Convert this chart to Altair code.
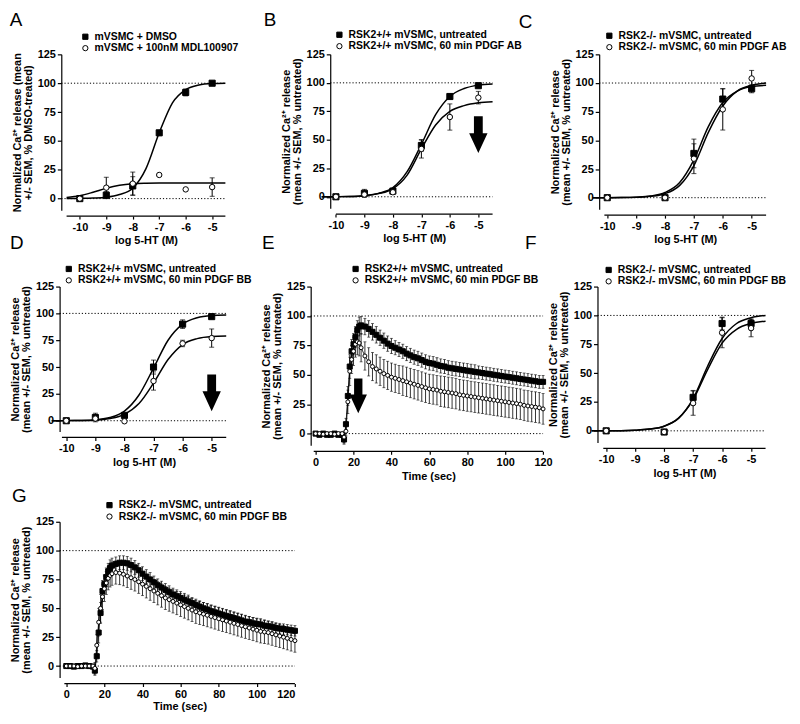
import altair as alt
import pandas as pd

FONT = "Liberation Sans"

# ---------------- shared axis values ----------------
DOSE_TICKS = [-10, -9, -8, -7, -6, -5]
Y_TICKS = [0, 25, 50, 75, 100, 125]
REF_LINES = [0, 100]
TIME_TICKS = [0, 20, 40, 60, 80, 100, 120]
CURVE_X = [-10.5, -10, -9.5, -9, -8.5, -8, -7.5, -7, -6.5, -6, -5.5, -5, -4.5]
DOSE_X6 = [-10, -9, -8, -7, -6, -5]
DOSE_X5 = [-10, -8, -7, -6, -5]

YT_A = ["Normalized Ca²⁺ release (mean", "+/- SEM, % DMSO-treated)"]
YT = ["Normalized Ca²⁺ release", "(mean +/- SEM, % untreated)"]
XT_DOSE = "log 5-HT (M)"
XT_TIME = "Time (sec)"

# ---------------- panel A ----------------
A_labels = ["mVSMC + DMSO", "mVSMC + 100nM MDL100907"]
A_fill_y = [0, 3, 11, 57, 92, 100]
A_fill_e = [1, 3, 8, 2, 3, 1]
A_open_y = [0, 9.5, 13, 20.5, 8, 10]
A_open_e = [0.5, 9, 10, 0, 0, 8]
A_fill_curve = [0, 0.2, 0.5, 1.2, 3.5, 9, 26, 57, 83, 94.5, 98.5, 99.7, 100]
A_open_curve = [1, 2.5, 5.5, 9, 11.5, 12.8, 13.3, 13.5, 13.5, 13.5, 13.5, 13.5, 13.5]

# ---------------- panel B ----------------
B_labels = ["RSK2+/+ mVSMC, untreated", "RSK2+/+ mVSMC, 60 min PDGF AB"]
B_fill_y = [0, 3, 5, 45, 88, 97.5]
B_fill_e = [0.5, 3.5, 1.5, 5, 2, 1]
B_open_y = [0, 2, 4, 42, 70, 87]
B_open_e = [0.5, 1, 1, 8, 11.5, 5.5]
B_fill_curve = [0, 0.1, 0.3, 1, 3, 8, 22, 46, 72, 88, 95, 98, 99]
B_open_curve = [0, 0.1, 0.3, 1, 2.8, 7, 19, 42, 63, 75, 80, 82.5, 83.5]
B_arrow = (-5, 54.5)

# ---------------- panel C ----------------
C_labels = ["RSK2-/- mVSMC, untreated", "RSK2-/- mVSMC, 60 min PDGF AB"]
C_fill_y = [0, 0, 38.6, 86, 95]
C_fill_e = [0.5, 1, 12.5, 9, 3.5]
C_open_y = [0, 0, 34, 77, 104]
C_open_e = [0.5, 1, 13, 18, 7]
C_fill_curve = [0, 0, 0.1, 0.5, 1.5, 4.5, 13, 33, 62, 83, 93, 97, 98]
C_open_curve = [0, 0, 0.1, 0.4, 1.2, 3.5, 10.5, 28, 57, 80, 93, 98, 100]

# ---------------- panel D ----------------
D_labels = ["RSK2+/+ mVSMC, untreated", "RSK2+/+ mVSMC, 60 min PDGF BB"]
D_fill_y = [0, 3, 5, 50, 90, 97]
D_fill_e = [0.5, 4, 1, 6.5, 4, 2]
D_open_y = [0, 2, -0.5, 37, 72, 77]
D_open_e = [0.5, 1, 0.5, 8.5, 3, 8.5]
D_fill_curve = [0, 0.1, 0.3, 1, 3, 9, 24, 49, 75, 90, 96, 98, 98.5]
D_open_curve = [0, 0.1, 0.2, 0.5, 2, 6, 16, 35, 57, 71, 76.5, 78.5, 79]
D_arrow = (-5, 26)

# ---------------- panel F ----------------
F_labels = ["RSK2-/- mVSMC, untreated", "RSK2-/- mVSMC, 60 min PDGF BB"]
F_fill_y = [0, -1, 29, 93, 93]
F_fill_e = [0.5, 1, 6, 5.5, 4]
F_open_y = [0, -1, 24, 85, 89]
F_open_e = [0.5, 1, 10.5, 13, 7.5]
F_fill_curve = [0, 0, 0.1, 0.5, 1.5, 4, 11, 28, 56, 80, 93, 98, 100]
F_open_curve = [0, 0, 0.1, 0.5, 1.5, 4, 11, 27, 53, 76, 88, 93, 95]

# ---------------- time courses (E, G) ----------------
TIME = [0, 2, 4, 6, 8, 10, 12, 14,
        15, 16, 17, 18, 19, 20, 21, 22, 23, 24,
        26, 28, 30, 32, 34, 36, 38, 40, 42, 44, 46, 48, 50, 52, 54, 56, 58, 60,
        62, 64, 66, 68, 70, 72, 74, 76, 78, 80, 82, 84, 86, 88, 90, 92, 94, 96,
        98, 100, 102, 104, 106, 108, 110, 112, 114, 116, 118, 120]

E_labels = ["RSK2+/+ mVSMC, untreated", "RSK2+/+ mVSMC, 60 min PDGF BB"]
E_fill_y = [0, -1, 0, -1, -1, 0, -1, -1,
            -5, 8, 32, 57, 70, 76, 82, 88, 91, 92,
            91, 89, 86.5, 84, 81.5, 79, 76.5, 74.5, 73, 71.5,
            70, 68, 66.5, 65, 64, 62.5, 61, 60, 59.5, 58.5,
            57.5, 57, 56, 55.5, 55, 54.5, 54, 53.5, 53, 52.5,
            52, 51.5, 51, 50.5, 50, 49.5, 49, 48.5, 48, 47.5,
            47, 46.5, 46, 45.5, 45, 44.5, 44, 44]
E_fill_e = [1, 1, 1, 1, 1, 1, 1, 1,
            4, 5, 8, 10, 10, 9, 9, 8, 8, 7.5,
            7, 7, 7, 7, 6.5, 6.5, 6.5, 6.5, 6, 6,
            6, 6, 6, 6, 6, 6, 6, 6, 6, 6,
            6, 6, 6, 6, 6, 6, 6, 6, 6, 6,
            5.5, 5.5, 5.5, 5.5, 5.5, 5.5, 5.5, 5.5, 5.5, 5.5,
            5.5, 5.5, 5.5, 5.5, 5.5, 5.5, 5.5, 5.5]
E_open_y = [0, 0, -0.5, 0, 0, -0.5, 0, 0,
            -3, 2, 27, 53, 63, 70, 76, 78, 77, 73,
            66, 61, 57, 55, 53, 51, 49.5, 48, 47, 46,
            45, 44, 43, 42, 41, 40, 39, 38, 37.5, 37,
            36, 35.5, 35, 34.5, 34, 33, 32.5, 32, 31.5, 31,
            30.5, 30, 29.5, 29, 28.5, 28, 27.5, 27, 26.5, 26,
            25.5, 25, 24, 23.5, 23, 22.5, 22, 21]
E_open_e = [1, 1, 1, 1, 1, 1, 1, 1,
            5, 4, 10, 12, 12, 12, 11, 11, 11, 12,
            12, 12, 12, 12, 12, 12, 12, 12, 12, 12,
            12.5, 12.5, 12.5, 12.5, 12.5, 12.5, 12.5, 12.5, 12.5, 12.5,
            13, 13, 13, 13, 13, 13, 13, 13, 13, 13,
            13, 13, 13, 13, 13, 13, 13, 13, 13, 13,
            13, 13, 13, 13, 13, 13, 13, 13]
E_arrow = (22.5, 32)

G_labels = ["RSK2-/- mVSMC, untreated", "RSK2-/- mVSMC, 60 min PDGF BB"]
G_fill_y = [0, 0, -0.5, 0, 0, 0.5, 0, -0.5,
            -4, 8.5, 29, 46, 65, 71, 77, 82, 85, 87,
            88.5, 89.5, 89.5, 89, 87.5, 85.5, 83, 80, 77.5, 75,
            72.5, 70, 68, 66, 64, 62, 60.5, 59, 57.5, 56,
            54.5, 53, 51.5, 50, 49, 47.5, 46.5, 45.5, 44.5, 43.5,
            42.5, 41.5, 40.5, 39.5, 38.5, 38, 37, 36.5, 36, 35,
            34.5, 34, 33, 32.5, 32, 31.5, 31, 30.5]
G_fill_e = [1, 1, 1, 1, 1, 1, 1, 1,
            4, 5, 9, 9, 9, 8, 8, 7, 7, 6.5,
            6, 6, 6, 6, 6, 6, 6, 6, 6, 6,
            5.5, 5.5, 5.5, 5.5, 5.5, 5.5, 5.5, 5.5, 5.5, 5.5,
            5, 5, 5, 5, 5, 5, 5, 5, 5, 5,
            5, 5, 5, 5, 5, 5, 5, 5, 5, 5,
            4.5, 4.5, 4.5, 4.5, 4.5, 4.5, 4.5, 4.5]
G_open_y = [0, 0, 0, -0.5, 0, 0, 0, 0,
            -2, 18, 38, 50, 60, 67, 72, 76, 78.5, 80,
            81, 80.5, 79.5, 78, 76.5, 75, 73, 71, 69, 67,
            65, 63, 61, 59, 57.5, 56, 54.5, 53, 51.5, 50,
            48.5, 47, 46, 45, 44, 43, 42, 41, 40, 39,
            38, 37, 36, 35, 34, 33, 32, 31, 30, 29.5,
            29, 28, 27, 26, 25, 24, 23, 22]
G_open_e = [1, 1, 1, 1, 1, 1, 1, 1,
            5, 9, 12, 12, 11, 11, 10, 10, 10, 10,
            10, 10, 10, 10, 10, 10, 10, 10, 10, 10,
            10, 10, 10, 10, 10, 10, 10, 10, 10, 10,
            10, 10, 10, 10, 10, 10, 10, 10, 10, 10,
            10, 10, 10, 10, 10, 10, 10, 10, 10, 10,
            10, 10, 10, 10, 10, 10, 10, 10]

ARROW = "M-0.24,-1L0.24,-1L0.24,-0.08L0.5,-0.08L0,1L-0.5,-0.08L-0.24,-0.08Z"
X_OFFSET = 6


def make_panel(letter, labels, ytitle, xtitle, x1, y1, e1, x2, y2, e2,
               x0, axis_start, axis_end, ppu, xticks, height,
               leg_xy, let_xy, yoff=0.0, extra=0.0,
               cx=None, c1=None, c2=None, connect=False,
               psize=(38, 30), cap=5, arrow=None, arrow_size=1369,
               xtitle_pad=3):
    # x0: data value at the y axis; yoff: blank px left of the y axis
    # (the axis is pulled right by yoff so the panel sits where it should)
    width = (axis_end - x0) * ppu + yoff + extra
    xdom = [x0 - yoff / ppu, axis_end + extra / ppu]
    n1, n2 = len(x1), len(x2)
    pts = pd.DataFrame({
        "x": list(x1) + list(x2),
        "y": list(y1) + list(y2),
        "lo": [a - b for a, b in zip(y1, e1)] + [a - b for a, b in zip(y2, e2)],
        "hi": [a + b for a, b in zip(y1, e1)] + [a + b for a, b in zip(y2, e2)],
        "series": [labels[0]] * n1 + [labels[1]] * n2,
    })
    xs = alt.Scale(domain=xdom, nice=False, zero=False)
    ys = alt.Scale(domain=[-10, 125], nice=False, zero=False)
    xax = alt.Axis(values=xticks, title=xtitle, offset=X_OFFSET, domain=False,
                   labelExpr="'' + datum.value", tickSize=3,
                   titlePadding=xtitle_pad,
                   titleX=((axis_start + axis_end) / 2 - x0) * ppu + yoff)
    yax = alt.Axis(values=Y_TICKS, title=ytitle, offset=-yoff,
                   labelFlush=False)
    X = alt.X("x:Q", scale=xs, axis=xax)
    Y = alt.Y("y:Q", scale=ys, axis=yax)
    ends = pd.DataFrame({"a": [axis_start], "b": [axis_end]})
    xa = alt.X("a:Q", scale=xs, axis=xax)

    layers = []
    # x axis line (only over the drawn axis range)
    layers.append(
        alt.Chart(ends).mark_rule(color="black", strokeWidth=1.2)
        .encode(x=xa, x2="b:Q", y=alt.value(height + X_OFFSET))
    )
    # dotted reference lines
    refs = pd.DataFrame({"y": REF_LINES, "a": [x0, x0], "b": [axis_end] * 2})
    layers.append(
        alt.Chart(refs)
        .mark_rule(strokeDash=[1.2, 2], color="black", strokeWidth=1)
        .encode(x=xa, x2="b:Q", y=Y)
    )
    if cx is not None:
        cdf = pd.DataFrame({
            "x": list(cx) * 2,
            "y": list(c1) + list(c2),
            "series": [labels[0]] * len(cx) + [labels[1]] * len(cx),
        })
        layers.append(
            alt.Chart(cdf).mark_line(color="black", strokeWidth=1.5,
                                     interpolate="monotone")
            .encode(x=X, y=Y, detail="series:N")
        )
    if connect:
        layers.append(
            alt.Chart(pts).mark_line(color="black", strokeWidth=0.8)
            .encode(x=X, y=Y, detail="series:N")
        )
    sw = 1 if cap >= 5 else 0.8
    layers.append(
        alt.Chart(pts).mark_rule(color="black", strokeWidth=sw)
        .encode(x=X, y=alt.Y("lo:Q", scale=ys, axis=yax), y2="hi:Q")
    )
    for fld in ("lo", "hi"):
        layers.append(
            alt.Chart(pts).mark_tick(color="black", orient="horizontal",
                                     size=cap, thickness=sw)
            .encode(x=X, y=alt.Y(f"{fld}:Q", scale=ys, axis=yax))
        )
    legend = alt.Legend(
        orient="none", legendX=leg_xy[0] + yoff, legendY=leg_xy[1],
        title=None, labelFont=FONT, labelFontSize=10.5,
        labelFontWeight="bold", labelColor="black", labelLimit=400,
        symbolSize=28, symbolStrokeColor="black", symbolStrokeWidth=1,
        symbolOpacity=1, rowPadding=0.5, labelOffset=4, padding=0,
    )
    for i, lab in enumerate(labels):
        sub = pts[pts["series"] == lab]
        layers.append(
            alt.Chart(sub).mark_point(filled=True, strokeWidth=1, opacity=1,
                                      size=psize[i])
            .encode(
                x=X, y=Y,
                shape=alt.Shape("series:N", scale=alt.Scale(
                    domain=labels, range=["square", "circle"]), legend=legend),
                fill=alt.Fill("series:N", scale=alt.Scale(
                    domain=labels, range=["black", "white"]), legend=legend),
                stroke=alt.Stroke("series:N", scale=alt.Scale(
                    domain=labels, range=["black", "black"]), legend=legend),
            )
        )
    if arrow is not None:
        layers.append(
            alt.Chart(pd.DataFrame({"x": [arrow[0]], "y": [arrow[1]]}))
            .mark_point(shape=ARROW, size=arrow_size, filled=True,
                        color="black", opacity=1, strokeWidth=0)
            .encode(x=X, y=Y)
        )
    layers.append(
        alt.Chart(pd.DataFrame({"t": [letter]}))
        .mark_text(font=FONT, fontSize=19, align="left", baseline="top",
                   color="black")
        .encode(text="t:N", x=alt.value(let_xy[0] + yoff),
                y=alt.value(let_xy[1]))
    )
    return alt.layer(*layers).properties(width=width, height=height)


pA = make_panel("A", A_labels, YT_A, XT_DOSE, DOSE_X6, A_fill_y, A_fill_e,
                DOSE_X6, A_open_y, A_open_e, -10.7, -10.5, -4.5, 26.67,
                DOSE_TICKS, 157, (19, -23), (-52, -43.5), yoff=1.7,
                cx=CURVE_X, c1=A_fill_curve, c2=A_open_curve)
pB = make_panel("B", B_labels, YT, XT_DOSE, DOSE_X6, B_fill_y, B_fill_e,
                DOSE_X6, B_open_y, B_open_e, -10.2, -10.0, -4.5, 28.7,
                DOSE_TICKS, 155, (4, -25), (-67, -43.5), yoff=19.7,
                cx=CURVE_X, c1=B_fill_curve, c2=B_open_curve, arrow=B_arrow)
pC = make_panel("C", C_labels, YT, XT_DOSE, DOSE_X5, C_fill_y, C_fill_e,
                DOSE_X5, C_open_y, C_open_e, -10.28, -10.1, -4.5, 29.1,
                DOSE_TICKS, 156, (5, -24), (-81, -42), yoff=1.7,
                cx=CURVE_X, c1=C_fill_curve, c2=C_open_curve)
pD = make_panel("D", D_labels, YT, XT_DOSE, DOSE_X6, D_fill_y, D_fill_e,
                DOSE_X6, D_open_y, D_open_e, -10.23, -10.15, -4.5, 29.3,
                DOSE_TICKS, 146, (4, -23), (-50, -52.5),
                cx=CURVE_X, c1=D_fill_curve, c2=D_open_curve, arrow=D_arrow)
pE = make_panel("E", E_labels, YT, XT_TIME, TIME, E_fill_y, E_fill_e,
                TIME, E_open_y, E_open_e, -2.6, -1, 120, 1.91,
                TIME_TICKS, 160, (40, -23), (-49, -52.5), extra=39.8,
                connect=True, psize=(26, 16), cap=3, arrow=E_arrow,
                arrow_size=1225)
pF = make_panel("F", F_labels, YT, XT_DOSE, DOSE_X5, F_fill_y, F_fill_e,
                DOSE_X5, F_open_y, F_open_e, -10.3, -10.1, -4.5, 29.2,
                DOSE_TICKS, 157, (6, -22), (-73, -52.5),
                cx=CURVE_X, c1=F_fill_curve, c2=F_open_curve)
pG = make_panel("G", G_labels, YT, XT_TIME, TIME, G_fill_y, G_fill_e,
                TIME, G_open_y, G_open_e, -3.5, -1, 120, 1.92,
                TIME_TICKS, 157, (45, -22), (-48, -34.5), connect=True,
                psize=(26, 16), cap=3, xtitle_pad=1)

# grid cell of column 1 starts at page x=60, row 1 at page y=52 (8px margin)
PAD_LEFT, PAD_TOP = 52, 44
SVG_W, SVG_H = 790, 707

chart = (
    alt.concat(pA, pB, pC, pD, pE, pF, pG, columns=3,
               spacing={"row": 77, "column": 15}, bounds="flush")
    .resolve_scale(x="independent", y="independent",
                   shape="independent", fill="independent",
                   stroke="independent")
    .resolve_legend(shape="independent", fill="independent",
                    stroke="independent")
    .properties(
        autosize=alt.AutoSizeParams(type="none"),
        padding={"left": PAD_LEFT, "top": PAD_TOP,
                 "right": SVG_W - PAD_LEFT, "bottom": SVG_H - PAD_TOP},
    )
    .configure_view(stroke=None)
    .configure_axis(
        domainColor="black", tickColor="black", labelColor="black",
        titleColor="black", labelFont=FONT, titleFont=FONT,
        labelFontSize=11, labelFontWeight="bold", titleFontSize=11,
        titleFontWeight="bold", grid=False, tickSize=4, domainWidth=1.2,
        tickWidth=1.2, labelPadding=2, titlePadding=4, titleLineHeight=11,
    )
)

chart.save("out.html", embed_options={"renderer": "svg", "actions": False})
